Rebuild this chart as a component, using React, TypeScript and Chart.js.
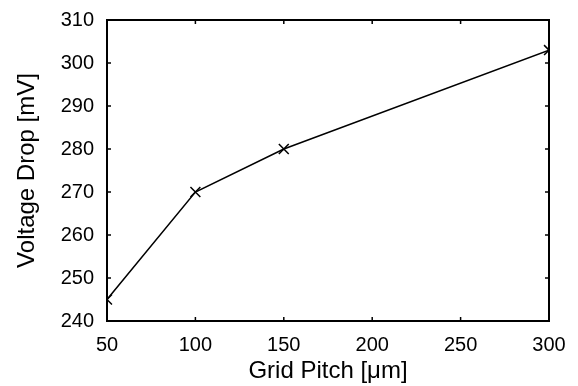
import React, { useEffect, useRef } from "react";
import { Chart, registerables } from "chart.js";

Chart.register(...registerables);

const pitches = [50, 100, 150, 300];
const drops = [245, 270, 280, 303];
const xTicks = [50, 100, 150, 200, 250, 300];
const yTicks = [240, 250, 260, 270, 280, 290, 300, 310];
const xTitle = "Grid Pitch [\u03bcm]";
const yTitle = "Voltage Drop [mV]";

const FONT = "'Liberation Sans', Arial, Helvetica, sans-serif";

const framePlugin = {
  id: "frame",
  afterDraw(chart: any) {
    const { ctx, chartArea: a, scales } = chart;
    const tl = 4;
    ctx.save();
    ctx.strokeStyle = "#000";
    ctx.lineWidth = 1.5;
    ctx.beginPath();
    for (const v of xTicks) {
      const px = scales.x.getPixelForValue(v);
      ctx.moveTo(px, a.bottom);
      ctx.lineTo(px, a.bottom - tl);
      ctx.moveTo(px, a.top);
      ctx.lineTo(px, a.top + tl);
    }
    for (const v of yTicks) {
      const py = scales.y.getPixelForValue(v);
      ctx.moveTo(a.left, py);
      ctx.lineTo(a.left + tl, py);
      ctx.moveTo(a.right, py);
      ctx.lineTo(a.right - tl, py);
    }
    ctx.stroke();
    ctx.lineWidth = 2;
    ctx.strokeRect(a.left, a.top, a.right - a.left, a.bottom - a.top);
    ctx.restore();
  },
};

export default function App() {
  const ref = useRef<HTMLCanvasElement>(null);
  useEffect(() => {
    document.body.style.margin = "0";
    const chart = new Chart(ref.current as HTMLCanvasElement, {
      type: "scatter",
      data: {
        datasets: [
          {
            data: pitches.map((x, i) => ({ x, y: drops[i] })),
            showLine: true,
            borderColor: "#000",
            borderWidth: 1.5,
            pointStyle: "crossRot",
            pointRadius: 7,
            pointBorderWidth: 1.5,
            pointBorderColor: "#000",
            pointBackgroundColor: "#000",
          },
        ],
      },
      options: {
        animation: false,
        responsive: false,
        layout: { padding: { top: 20, right: 29, left: 0, bottom: 0 } },
        plugins: { legend: { display: false }, tooltip: { enabled: false } },
        scales: {
          x: {
            type: "linear",
            min: 50,
            max: 300,
            afterBuildTicks: (s: any) => {
              s.ticks = xTicks.map((v) => ({ value: v }));
            },
            afterFit: (s: any) => {
              s.height = 65;
              s.paddingLeft = 0;
              s.paddingRight = 0;
            },
            grid: { display: false, drawTicks: false },
            border: { display: false },
            ticks: {
              padding: 12,
              color: "#000",
              font: { family: FONT, size: 20 },
              maxRotation: 0,
            },
            title: {
              display: true,
              text: xTitle,
              color: "#000",
              font: { family: FONT, size: 24 },
              padding: { top: 0, bottom: 0 },
            },
          },
          y: {
            type: "linear",
            min: 240,
            max: 310,
            afterBuildTicks: (s: any) => {
              s.ticks = yTicks.map((v) => ({ value: v }));
            },
            afterFit: (s: any) => {
              s.width = 107;
              s.paddingTop = 0;
              s.paddingBottom = 0;
            },
            grid: { display: false, drawTicks: false },
            border: { display: false },
            ticks: {
              padding: 13,
              color: "#000",
              font: { family: FONT, size: 20 },
            },
            title: {
              display: true,
              text: yTitle,
              color: "#000",
              font: { family: FONT, size: 24 },
              padding: { top: 12.5, bottom: 0 },
            },
          },
        },
      },
      plugins: [framePlugin],
    } as any);
    return () => chart.destroy();
  }, []);
  return (
    <div style={{ position: "absolute", left: 0, top: 0, width: 578, height: 386, background: "#fff" }}>
      <canvas ref={ref} width={578} height={386} />
    </div>
  );
}
